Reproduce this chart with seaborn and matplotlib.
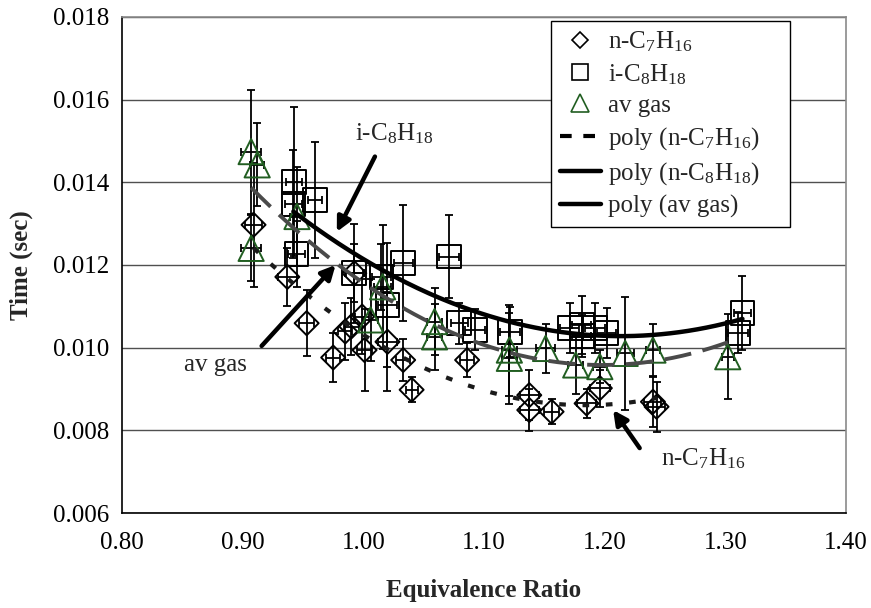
import numpy as np
import matplotlib
matplotlib.use("Agg")
import matplotlib.pyplot as plt
import seaborn as sns
from matplotlib.lines import Line2D
from matplotlib.ticker import FormatStrFormatter

# n-heptane: equivalence ratio, ignition time (s) and their uncertainties
hep_phi = [0.909, 0.937, 0.953, 0.975, 0.985, 0.990, 0.9925, 0.999, 1.001, 1.020,
           1.033, 1.040, 1.086, 1.1375, 1.1375, 1.156, 1.185, 1.196, 1.240, 1.243]
hep_t = [0.01297, 0.01171, 0.01059, 0.00976, 0.01039, 0.01051, 0.01180, 0.01075, 0.00994, 0.01014,
         0.00970, 0.00898, 0.00970, 0.00885, 0.00849, 0.00845, 0.00865, 0.00902, 0.00869, 0.00857]
hep_terr = [0.0015, 0.0007, 0.0008, 0.0006, 0.0007, 0.0007, 0.0012, 0.0009, 0.0010, 0.0012,
            0.0005, 0.0003, 0.0004, 0.0006, 0.0005, 0.0003, 0.00035, 0.00045, 0.0006, 0.0006]
hep_phierr = [0.007, 0.008, 0.006, 0.006, 0.006, 0.006, 0.008, 0.006, 0.006, 0.008,
              0.006, 0.005, 0.006, 0.008, 0.008, 0.006, 0.008, 0.008, 0.007, 0.007]

# iso-octane
oct_phi = [0.9425, 0.942, 0.960, 0.9447, 0.9925, 1.015, 1.020, 1.033, 1.071, 1.0795,
           1.0925, 1.1215, 1.171, 1.181, 1.181, 1.192, 1.2016, 1.3106, 1.3142]
oct_t = [0.01401, 0.01347, 0.01357, 0.01226, 0.01181, 0.01171, 0.01103, 0.01205, 0.01220, 0.01059,
         0.01043, 0.01038, 0.01047, 0.01055, 0.01028, 0.01047, 0.01036, 0.01036, 0.01083]
oct_terr = [0.0018, 0.0013, 0.0014, 0.0008, 0.0007, 0.0008, 0.0015, 0.0014, 0.0010, 0.0005,
            0.0005, 0.0006, 0.0006, 0.0007, 0.0005, 0.0006, 0.0006, 0.0005, 0.0009]
oct_phierr = [0.007, 0.007, 0.006, 0.007, 0.007, 0.008, 0.008, 0.008, 0.008, 0.007,
              0.008, 0.008, 0.008, 0.008, 0.008, 0.008, 0.008, 0.008, 0.007]

# aviation gasoline
av_phi = [0.907, 0.912, 0.907, 0.945, 1.016, 1.006, 1.059, 1.059, 1.121, 1.121,
          1.151, 1.176, 1.196, 1.217, 1.240, 1.302]
av_t = [0.01474, 0.01442, 0.01240, 0.01317, 0.01147, 0.01067, 0.01063, 0.01026, 0.00994, 0.00974,
        0.00998, 0.00958, 0.00954, 0.00986, 0.00994, 0.00978]
av_terr = [0.0015, 0.0010, 0.0008, 0.0012, 0.0015, 0.0010, 0.0008, 0.0008, 0.0011, 0.0011,
           0.0006, 0.0007, 0.0004, 0.00137, 0.00063, 0.00103]
av_phierr = [0.008, 0.006, 0.008, 0.006, 0.007, 0.006, 0.006, 0.006, 0.006, 0.006,
             0.008, 0.006, 0.006, 0.007, 0.006, 0.005]

x_ticks = [0.80, 0.90, 1.00, 1.10, 1.20, 1.30, 1.40]
y_ticks = [0.006, 0.008, 0.010, 0.012, 0.014, 0.016, 0.018]

GREEN = "#215e21"

sns.set_theme(style="white")
plt.rcParams["font.family"] = ["Liberation Serif", "DejaVu Serif"]
plt.rcParams["mathtext.fontset"] = "custom"
plt.rcParams["mathtext.rm"] = "Liberation Serif"
plt.rcParams["mathtext.it"] = "Liberation Serif:italic"
plt.rcParams["mathtext.bf"] = "Liberation Serif:bold"

FS = 18

fig = plt.figure(figsize=(8.71, 6.08), dpi=100)
ax = fig.add_axes([0.1401, 0.15625, 0.8312, 0.8161])

series = [
    (hep_phi, hep_t, hep_terr, hep_phierr, "D", 150, "black"),
    (oct_phi, oct_t, oct_terr, oct_phierr, "s", 290, "black"),
    (av_phi, av_t, av_terr, av_phierr, "^", 330, GREEN),
]

for phi, t, terr, phierr, mk, size, col in series:
    ax.errorbar(phi, t, yerr=terr, xerr=phierr, fmt="none", ecolor="black",
                elinewidth=1.3, capsize=3, capthick=1.3, zorder=2)
    sns.scatterplot(x=phi, y=t, marker=mk, s=size, facecolor="none",
                    edgecolor=col, linewidth=1.4, ax=ax, zorder=3, legend=False)

# second-order polynomial trends through each series
def trend(phi, t):
    coef = np.polyfit(phi, t, 2)
    xs = np.linspace(min(phi), max(phi), 200)
    return xs, np.polyval(coef, xs)

xs, ys = trend(hep_phi, hep_t)
sns.lineplot(x=xs, y=ys, ax=ax, color="#1a1a1a", lw=3.0,
             linestyle=(0, (1.6, 4.0)), zorder=4, legend=False)
xs, ys = trend(oct_phi, oct_t)
sns.lineplot(x=xs, y=ys, ax=ax, color="black", lw=3.2,
             linestyle="-", zorder=4, legend=False)
xs, ys = trend(av_phi, av_t)
sns.lineplot(x=xs, y=ys, ax=ax, color="#4a4a4a", lw=2.8,
             linestyle=(0, (7, 3)), zorder=4, legend=False)

ax.set_xlim(0.80, 1.40)
ax.set_ylim(0.006, 0.018)
ax.set_xticks(x_ticks)
ax.set_yticks(y_ticks)
ax.xaxis.set_major_formatter(FormatStrFormatter("%.2f"))
ax.yaxis.set_major_formatter(FormatStrFormatter("%.3f"))
ax.yaxis.grid(True, color="#505050", lw=1.0)
ax.xaxis.grid(False)
ax.set_axisbelow(True)

for side in ("left", "bottom"):
    ax.spines[side].set_color("black")
    ax.spines[side].set_linewidth(1.2)
for side in ("top", "right"):
    ax.spines[side].set_color("#8a8a8a")
    ax.spines[side].set_linewidth(1.2)

ax.tick_params(axis="both", direction="out", length=6.5, width=1.0, color="black",
               labelsize=FS, labelcolor="black", pad=3)
ax.tick_params(axis="x", pad=7)

ax.set_xlabel("Equivalence Ratio", fontsize=FS, fontweight="bold", labelpad=18)
ax.set_ylabel("Time (sec)", fontsize=FS, fontweight="bold", labelpad=14)

arrow = dict(arrowstyle="-|>,head_length=0.7,head_width=0.35", color="black",
             lw=3.2, shrinkA=0, shrinkB=0)
ax.annotate(r"i-C$_\mathrm{8}$H$_\mathrm{18}$", xy=(0.978, 0.01280), xytext=(1.0254, 0.01517),
            ha="center", va="center", fontsize=FS, zorder=6)
ax.annotate("", xy=(0.978, 0.01280), xytext=(1.0096, 0.01462), arrowprops=arrow, zorder=6)
ax.annotate("av gas", xy=(0.977, 0.01200), xytext=(0.8771, 0.00958),
            ha="center", va="center", fontsize=FS, zorder=6)
ax.annotate("", xy=(0.977, 0.01200), xytext=(0.9157, 0.01004), arrowprops=arrow, zorder=6)
ax.annotate(r"n-C$_\mathrm{7}$H$_\mathrm{16}$", xy=(1.207, 0.00849), xytext=(1.2814, 0.00731),
            ha="center", va="center", fontsize=FS, zorder=6)
ax.annotate("", xy=(1.207, 0.00849), xytext=(1.229, 0.00757), arrowprops=arrow, zorder=6)

handles = [
    Line2D([], [], ls="none", marker="D", ms=8, mfc="none", mec="black", mew=1.2),
    Line2D([], [], ls="none", marker="s", ms=12, mfc="none", mec="black", mew=1.2),
    Line2D([], [], ls="none", marker="^", ms=13, mfc="none", mec=GREEN, mew=1.2),
    Line2D([], [], color="black", lw=3.0, ls=(0, (2.8, 2.8))),
    Line2D([], [], color="black", lw=3.2, ls="-"),
    Line2D([], [], color="black", lw=3.2, ls="-"),
]
labels = [
    r"n-C$_\mathrm{7}$H$_\mathrm{16}$",
    r"i-C$_\mathrm{8}$H$_\mathrm{18}$",
    "av gas",
    r"poly (n-C$_\mathrm{7}$H$_\mathrm{16}$)",
    r"poly (n-C$_\mathrm{8}$H$_\mathrm{18}$)",
    "poly (av gas)",
]
# legend box spans a fixed width; content stays at the left
leg = ax.legend(handles, labels, loc="upper left",
                bbox_to_anchor=(0.5925, 0.992, 0.330, 0.0), mode="expand",
                fontsize=FS, frameon=True, fancybox=False, framealpha=1,
                edgecolor="black", borderpad=0.35, labelspacing=0.32,
                handlelength=1.65, handletextpad=0.3, borderaxespad=0)
leg.get_frame().set_linewidth(1.0)
leg.set_zorder(7)

fig.savefig("out.png", dpi=100)
